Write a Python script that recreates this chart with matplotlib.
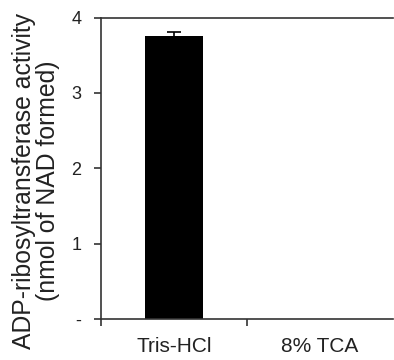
import matplotlib
matplotlib.use("Agg")
import matplotlib.pyplot as plt
import numpy as np

categories = ["Tris-HCl", "8% TCA"]
values = [3.75, 0.0]
errors = [0.06, 0.0]
ytick_values = [0, 1, 2, 3, 4]
ytick_labels = ["-", "1", "2", "3", "4"]
ylabel_text = "ADP-ribosyltransferase activity\n(nmol of NAD formed)"

plt.rcParams['font.family'] = ['Liberation Sans', 'DejaVu Sans']

fig = plt.figure(figsize=(3.94, 3.6), dpi=100)
ax = fig.add_axes([101/394, 41/360, 292/394, 301.5/360])

x = np.arange(len(categories))
vals = np.array(values)
errs = np.array(errors)
ax.bar(x, vals, width=0.40, color='black', linewidth=0)
mask = errs > 0
ax.errorbar(x[mask], vals[mask], yerr=errs[mask], fmt='none', ecolor='black',
            elinewidth=1.2, capsize=5, capthick=1.2)

ax.set_xlim(-0.5, 1.5)
ax.set_ylim(0, 4)

spine_color = '#333333'
for s in ['left', 'bottom', 'top']:
    ax.spines[s].set_color(spine_color)
    ax.spines[s].set_linewidth(1.2)
ax.spines['right'].set_visible(False)

ax.set_yticks(ytick_values)
ax.set_yticklabels(ytick_labels, fontsize=13, color='#222222')
ax.tick_params(axis='y', direction='out', length=5, width=1.2, color=spine_color, pad=9)

ax.set_xticks([-0.5, 0.5])
ax.set_xticklabels(["", ""])
ax.tick_params(axis='x', which='major', direction='out', length=5, width=1.2, color=spine_color)
ax.set_xticks(x, minor=True)
ax.set_xticklabels(categories, minor=True, fontsize=15, color='#222222')
ax.tick_params(axis='x', which='minor', length=0, pad=13)

fig.text(36/394, 1 - 181/360, ylabel_text, rotation=90, ha='center', va='center',
         multialignment='center', fontsize=17.8, color='#222222', linespacing=0.95)

fig.savefig("out.png", dpi=100)
